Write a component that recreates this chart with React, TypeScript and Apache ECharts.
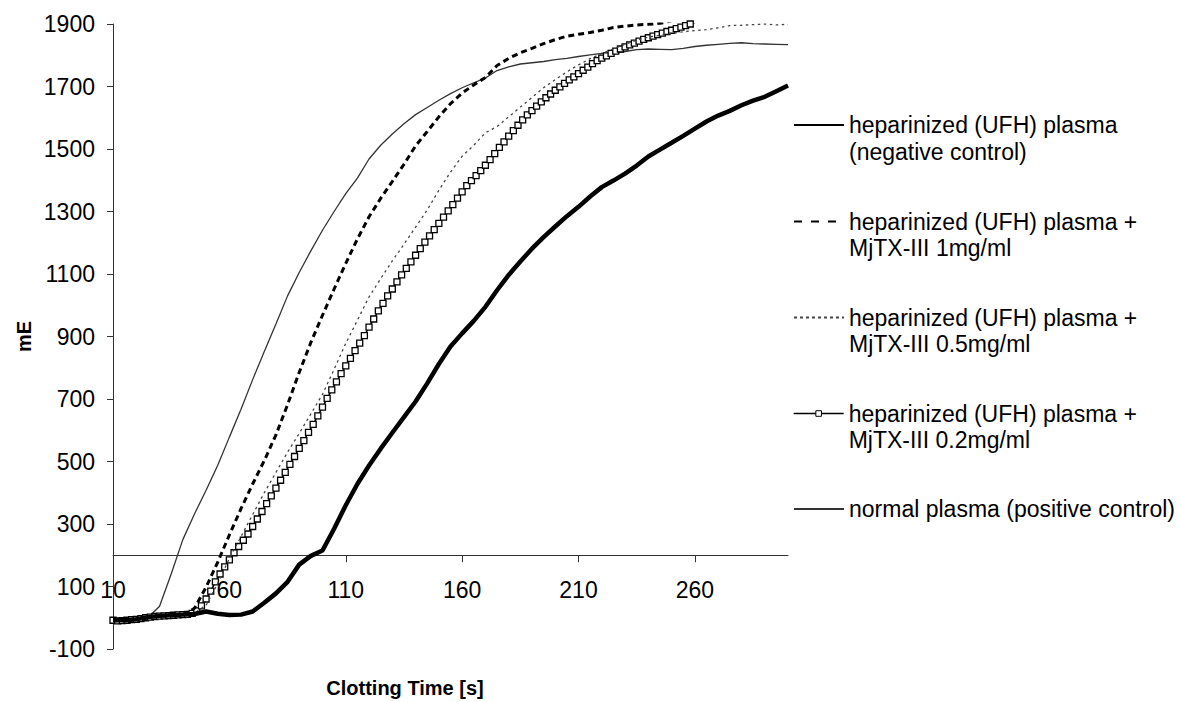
import React, { useEffect, useRef } from "react";
import * as echarts from "echarts";

const FONT = "'Liberation Sans', Arial, Helvetica, sans-serif";

// Series names (legend labels)
const SERIES_NAMES = [
  "heparinized (UFH) plasma (negative control)",
  "heparinized (UFH) plasma + MjTX-III 1mg/ml",
  "heparinized (UFH) plasma + MjTX-III 0.5mg/ml",
  "heparinized (UFH) plasma + MjTX-III 0.2mg/ml",
  "normal plasma (positive control)",
];
const LEGEND_LINES = [
  ["heparinized (UFH) plasma", "(negative control)"],
  ["heparinized (UFH) plasma +", "MjTX-III 1mg/ml"],
  ["heparinized (UFH) plasma +", "MjTX-III 0.5mg/ml"],
  ["heparinized (UFH) plasma +", "MjTX-III 0.2mg/ml"],
  ["normal plasma (positive control)"],
];

// Tick labels
const X_TICKS = [10, 60, 110, 160, 210, 260];
const Y_TICKS = [-100, 100, 300, 500, 700, 900, 1100, 1300, 1500, 1700, 1900];

// Time grids [s]
const T5 = [
  10, 15, 20, 25, 30, 35, 40, 45, 50, 55,
  60, 65, 70, 75, 80, 85, 90, 95, 100, 105,
  110, 115, 120, 125, 130, 135, 140, 145, 150, 155,
  160, 165, 170, 175, 180, 185, 190, 195, 200, 205,
  210, 215, 220, 225, 230, 235, 240, 245, 250, 255,
  260, 265, 270, 275, 280, 285, 290, 295, 300,
];
const T2 = [
  10, 12, 14, 16, 18, 20, 22, 24, 26, 28,
  30, 32, 34, 36, 38, 40, 42, 44, 46, 48,
  50, 52, 54, 56, 58, 60, 62, 64, 66, 68,
  70, 72, 74, 76, 78, 80, 82, 84, 86, 88,
  90, 92, 94, 96, 98, 100, 102, 104, 106, 108,
  110, 112, 114, 116, 118, 120, 122, 124, 126, 128,
  130, 132, 134, 136, 138, 140, 142, 144, 146, 148,
  150, 152, 154, 156, 158, 160, 162, 164, 166, 168,
  170, 172, 174, 176, 178, 180, 182, 184, 186, 188,
  190, 192, 194, 196, 198, 200, 202, 204, 206, 208,
  210, 212, 214, 216, 218, 220, 222, 224, 226, 228,
  230, 232, 234, 236, 238, 240, 242, 244, 246, 248,
  250, 252, 254, 256, 258, 260, 262,
];

// Values [mE]
const NEG_CONTROL = [
  -8, -8, -5, 2, 6, 8, 10, 12, 20, 13,
  9, 10, 20, 48, 78, 115, 170, 198, 215, 285,
  360, 428, 487, 541, 592, 642, 692, 750, 812, 868,
  910, 950, 995, 1048, 1097, 1140, 1181, 1218, 1252, 1285,
  1315, 1348, 1378, 1399, 1421, 1447, 1476, 1498, 1520, 1542,
  1565, 1588, 1607, 1622, 1640, 1655, 1667, 1685, 1703,
];
const MJ_1 = [
  -5, -8, -5, 0, 5, 8, 10, 30, 98, 178,
  265, 349, 428, 503, 585, 682, 785, 881, 968, 1052,
  1134, 1212, 1283, 1342, 1396, 1451, 1510, 1556, 1603, 1645,
  1679, 1705, 1729, 1767, 1790, 1808, 1822, 1837, 1850, 1861,
  1867, 1873, 1880, 1889, 1893, 1897, 1899, 1902, 1910,
];
const MJ_05 = [
  -5, -8, -5, 0, 5, 8, 10, 15, 40, 110,
  190, 260, 330, 400, 465, 530, 590, 652, 715, 795,
  878, 952, 1027, 1085, 1142, 1195, 1250, 1305, 1368, 1426,
  1477, 1512, 1552, 1572, 1603, 1634, 1665, 1696, 1722, 1747,
  1769, 1789, 1806, 1820, 1835, 1848, 1858, 1864, 1870, 1875,
  1879, 1882, 1888, 1895, 1896, 1898, 1900, 1897, 1899,
];
const MJ_02 = [
  -8, -10, -9, -8, -6, -5, -3, 0, 2, 4,
  5, 6, 7, 8, 9, 10, 11, 14, 22, 38,
  60, 85, 115, 140, 163, 185, 208, 228, 248, 268,
  292, 316, 340, 365, 390, 415, 440, 465, 491, 516,
  542, 567, 593, 619, 646, 674, 702, 729, 755, 781,
  806, 830, 855, 879, 903, 930, 956, 982, 1006, 1030,
  1052, 1075, 1097, 1118, 1139, 1160, 1181, 1202, 1222, 1242,
  1262, 1282, 1302, 1322, 1343, 1363, 1383, 1399, 1415, 1431,
  1448, 1466, 1485, 1505, 1523, 1541, 1559, 1576, 1593, 1609,
  1623, 1637, 1651, 1664, 1676, 1688, 1699, 1710, 1721, 1731,
  1741, 1752, 1762, 1773, 1783, 1791, 1798, 1806, 1813, 1820,
  1827, 1833, 1839, 1845, 1851, 1856, 1861, 1866, 1871, 1876,
  1880, 1885, 1890, 1895, 1900, 1905, 1910,
];
const NORMAL = [
  -5, -8, -5, 0, 37, 140, 250, 332, 408, 488,
  578, 667, 762, 852, 940, 1030, 1105, 1174, 1240, 1300,
  1357, 1407, 1468, 1512, 1548, 1581, 1610, 1633, 1656, 1677,
  1696, 1712, 1727, 1751, 1763, 1772, 1776, 1780, 1786, 1790,
  1796, 1801, 1806, 1806, 1812, 1818, 1820, 1819, 1818, 1822,
  1828, 1832, 1835, 1838, 1840, 1837, 1836, 1835, 1834,
];

const pairs = (t: number[], v: number[]) => v.map((y, i) => [t[i], y]);

// Legend layout: top of each legend block
const LEGEND_TOPS = [85.25, 181.75, 277.75, 373.75, 495.75];

export default function App() {
  const ref = useRef<HTMLDivElement>(null);

  useEffect(() => {
    if (!ref.current) return;
    const chart = echarts.init(ref.current, null, { renderer: "svg" });

    const lineStyles: any[] = [
      { color: "#000", width: 4.5 },
      { color: "#000", width: 3, type: [6, 4] },
      { color: "#444", width: 1.3, type: [2.5, 3.5] },
      { color: "#000", width: 1.5 },
      { color: "#333", width: 1.3 },
    ];
    const legendLineOverrides: any[] = [
      {},
      { type: [8, 9] },
      { type: [3, 3] },
      { width: 1.3 },
      {},
    ];

    const datasets = [
      pairs(T5, NEG_CONTROL),
      pairs(T5, MJ_1),
      pairs(T5, MJ_05),
      pairs(T2, MJ_02),
      pairs(T5, NORMAL),
    ];

    const series = SERIES_NAMES.map((name, i) => {
      const base: any = {
        name,
        type: "line",
        data: datasets[i],
        clip: true,
        lineStyle: lineStyles[i],
        itemStyle: { color: lineStyles[i].color },
        emphasis: { disabled: true },
        z: 10 - i,
      };
      if (i === 3) {
        base.symbol = "rect";
        base.symbolSize = 6;
        base.showSymbol = true;
        base.showAllSymbol = true;
        base.itemStyle = { color: "#fff", borderColor: "#000", borderWidth: 1.3 };
      } else {
        base.symbol = "none";
        base.showSymbol = false;
      }
      return base;
    });

    const legends = SERIES_NAMES.map((name, i) => ({
      show: true,
      orient: "vertical",
      left: 793,
      top: LEGEND_TOPS[i],
      padding: 0,
      itemWidth: 50,
      itemHeight: 7,
      selectedMode: false,
      formatter: () =>
        LEGEND_LINES[i].length > 1
          ? "\n" + LEGEND_LINES[i].join("\n")
          : LEGEND_LINES[i][0],
      data: [
        {
          name,
          lineStyle: legendLineOverrides[i],
          itemStyle:
            i === 3
              ? { color: "#fff", borderColor: "#000", borderWidth: 1 }
              : { opacity: 0, color: "rgba(0,0,0,0)", borderWidth: 0 },
        },
      ],
      textStyle: {
        fontSize: 23,
        fontFamily: FONT,
        color: "#000",
        lineHeight: 26.5,
      },
    }));

    const option: any = {
      animation: false,
      backgroundColor: "#fff",
      textStyle: { fontFamily: FONT },
      grid: {
        left: 113,
        right: 391,
        top: 24,
        bottom: 53,
        containLabel: false,
        outerBoundsMode: "none",
      },
      xAxis: {
        type: "value",
        min: 10,
        max: 300,
        position: "bottom",
        offset: -93.75,
        axisLine: {
          show: true,
          onZero: false,
          lineStyle: { color: "#333", width: 1 },
        },
        axisTick: {
          show: true,
          length: 7,
          inside: false,
          customValues: X_TICKS,
          lineStyle: { color: "#333", width: 1 },
        },
        axisLabel: {
          customValues: X_TICKS,
          formatter: (v: number) => String(v),
          fontSize: 23,
          fontFamily: FONT,
          color: "#000",
          margin: 23,
        },
        splitLine: { show: false },
      },
      yAxis: {
        type: "value",
        min: -100,
        max: 1900,
        name: "mE",
        nameLocation: "middle",
        nameGap: 79,
        nameMoveOverlap: false,
        nameTextStyle: {
          fontSize: 20,
          fontWeight: "bold",
          fontFamily: FONT,
          color: "#000",
        },
        axisLine: { show: true, onZero: false, lineStyle: { color: "#333", width: 1 } },
        axisTick: {
          show: true,
          length: 6,
          inside: false,
          customValues: Y_TICKS,
          lineStyle: { color: "#333", width: 1 },
        },
        axisLabel: {
          customValues: Y_TICKS,
          formatter: (v: number) => String(v),
          fontSize: 23,
          fontFamily: FONT,
          color: "#000",
          margin: 18,
        },
        splitLine: { show: false },
      },
      legend: legends,
      graphic: [
        {
          type: "text",
          x: 405,
          y: 688,
          style: {
            text: "Clotting Time [s]",
            font: `bold 20px ${FONT}`,
            fill: "#000",
            align: "center",
            verticalAlign: "middle",
          },
        },
      ],
      series,
    };

    chart.setOption(option);
    return () => chart.dispose();
  }, []);

  return (
    <div
      ref={ref}
      style={{ position: "absolute", left: 0, top: 0, width: 1179, height: 702 }}
    />
  );
}
